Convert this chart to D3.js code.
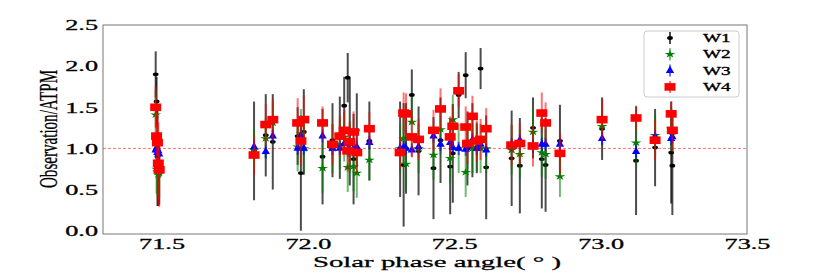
<!DOCTYPE html>
<html>
<head>
<meta charset="utf-8">
<script src="https://cdn.jsdelivr.net/npm/d3@7"></script>
<style>
  body { margin: 0; background: #fff; }
  text { font-family: "Liberation Serif", "Times New Roman", serif; }
</style>
</head>
<body>
<div id="chart"></div>
<script>
const w = 830;
const h = 273;

// solar phase angle of each observation (deg)
const phase = [71.480, 71.483, 71.486, 71.489, 71.492, 71.816, 71.856, 71.880, 71.965, 71.976,
  71.986, 72.050, 72.084, 72.109, 72.124, 72.136, 72.143, 72.156, 72.167, 72.210,
  72.315, 72.327, 72.335, 72.355, 72.378, 72.429, 72.453, 72.486, 72.495, 72.515,
  72.539, 72.545, 72.562, 72.577, 72.590, 72.609, 72.696, 72.724, 72.769, 72.799,
  72.812, 72.861, 73.005, 73.121, 73.186, 73.241, 73.245];

// Observation/ATPM ratio per band
const w1 = [1.90, 1.57, 0.90, 0.75, 0.72, 0.97, 1.16, 1.08, 1.15, 0.70,
  1.20, 0.90, 1.10, 1.13, 1.52, 1.86, 1.20, 0.87, 1.22, 1.09,
  0.99, 0.80, 1.00, 1.65, 0.97, 0.76, 1.10, 0.78, 0.94, 1.65,
  1.89, 1.00, 1.10, 1.00, 1.97, 0.77, 0.88, 0.79, 1.25, 0.87,
  0.80, 1.09, 1.24, 0.85, 1.01, 0.95, 0.79];
const w2 = [1.41, 0.75, 0.72, 0.68, 0.70, 0.98, 1.12, 1.31, 1.02, 1.18,
  1.00, 0.76, 1.00, 1.05, 1.14, 0.77, 1.00, 0.78, 0.70, 0.86,
  1.00, 1.12, 0.81, 1.32, 1.00, 0.92, 1.23, 0.88, 1.35, 1.00,
  0.71, 1.05, 1.00, 1.02, 1.00, 1.00, 0.98, 0.93, 1.20, 0.95,
  0.93, 0.66, 1.27, 1.07, 1.16, 1.24, 1.20];
const w3 = [0.98, 1.00, 0.95, 0.97, 0.93, 1.02, 0.96, 1.15, 1.00, 1.15,
  1.00, 1.15, 1.00, 1.00, 1.06, 0.98, 1.06, 1.00, 1.02, 1.07,
  1.00, 1.01, 1.00, 0.98, 1.02, 1.15, 1.05, 1.07, 1.01, 1.00,
  0.99, 1.03, 1.10, 1.00, 1.05, 0.98, 1.05, 1.10, 1.02, 1.05,
  1.05, 1.05, 1.12, 0.96, 1.14, 1.12, 1.14];
const w4 = [1.50, 1.15, 1.07, 0.82, 0.74, 0.92, 1.29, 1.35, 1.31, 1.09,
  1.35, 1.31, 1.05, 1.15, 1.22, 0.97, 1.08, 1.20, 0.95, 1.24,
  0.95, 1.43, 1.42, 1.14, 1.11, 1.22, 1.48, 1.14, 1.27, 1.70,
  1.26, 1.06, 1.39, 1.09, 1.11, 1.24, 1.04, 1.06, 1.03, 1.43,
  1.31, 0.94, 1.35, 1.37, 1.10, 1.42, 1.22];

// 1-sigma errors per band
const err1 = [0.28, 0.30, 0.60, 0.45, 0.40, 0.60, 0.50, 0.58, 0.35, 0.70,
  0.52, 0.58, 0.45, 0.50, 0.35, 0.30, 0.65, 0.55, 0.45, 0.48,
  0.58, 0.75, 0.55, 0.31, 0.54, 0.62, 0.52, 0.58, 0.60, 0.28,
  0.28, 0.45, 0.45, 0.30, 0.25, 0.63, 0.58, 0.58, 0.37, 0.60,
  0.57, 0.44, 0.38, 0.66, 0.47, 0.62, 0.60];
const err2 = [0.30, 0.30, 0.30, 0.30, 0.30, 0.25, 0.25, 0.25, 0.30, 0.30,
  0.30, 0.30, 0.30, 0.30, 0.30, 0.30, 0.30, 0.30, 0.30, 0.25,
  0.30, 0.30, 0.30, 0.30, 0.30, 0.30, 0.30, 0.30, 0.30, 0.30,
  0.30, 0.30, 0.30, 0.30, 0.30, 0.30, 0.30, 0.30, 0.30, 0.30,
  0.30, 0.25, 0.25, 0.30, 0.25, 0.25, 0.25];
const err3 = phase.map(() => 0.08);
const err4 = [0.25, 0.30, 0.35, 0.50, 0.45, 0.24, 0.25, 0.25, 0.30, 0.30,
  0.30, 0.20, 0.25, 0.25, 0.25, 0.25, 0.25, 0.25, 0.25, 0.20,
  0.20, 0.25, 0.25, 0.25, 0.25, 0.25, 0.25, 0.25, 0.25, 0.20,
  0.25, 0.25, 0.25, 0.25, 0.25, 0.25, 0.25, 0.25, 0.25, 0.25,
  0.25, 0.25, 0.25, 0.15, 0.25, 0.15, 0.25];

const xTicks = [71.5, 72.0, 72.5, 73.0, 73.5];
const yTicks = [0.0, 0.5, 1.0, 1.5, 2.0, 2.5];

const series = [
  { name: "W1", vals: w1, errs: err1, color: "#000000", shape: "dot", barAlpha: 0.7 },
  { name: "W2", vals: w2, errs: err2, color: "#008000", shape: "star", barAlpha: 0.55 },
  { name: "W3", vals: w3, errs: err3, color: "#0000ff", shape: "tri", barAlpha: 0.55 },
  { name: "W4", vals: w4, errs: err4, color: "#ff0000", shape: "sq", barAlpha: 0.55 }
];

const plotL = 103, plotR = 747, plotT = 25, plotB = 234;
const sx = 1.75; // the figure is stretched sideways

let svg = d3.select('#chart')
  .append('svg')
    .attr('width', w)
    .attr('height', h);

let xScale = d3.scaleLinear().domain([71.3, 73.5]).range([plotL, plotR]);
let yScale = d3.scaleLinear().domain([-0.04, 2.5]).range([plotB, plotT]);

// reference line at ratio 1
svg.append("line")
  .attr("x1", plotL).attr("x2", plotR)
  .attr("y1", yScale(1)).attr("y2", yScale(1))
  .attr("stroke", "#ff0000").attr("stroke-opacity", 0.55)
  .attr("stroke-width", 1)
  .attr("stroke-dasharray", "3,2");

function marker(g, shape, color) {
  if (shape == "dot") {
    g.append("ellipse").attr("rx", 2.9).attr("ry", 1.9).attr("fill", color);
  } else if (shape == "star") {
    g.append("path").attr("d", d3.symbol(d3.symbolStar, 26)())
      .attr("transform", "scale(1.2,0.85)").attr("fill", color);
  } else if (shape == "tri") {
    g.append("path").attr("d", d3.symbol(d3.symbolTriangle, 30)())
      .attr("fill", color);
  } else {
    g.append("rect").attr("x", -5.5).attr("y", -3.8).attr("width", 11).attr("height", 7.6)
      .attr("fill", color);
  }
}

series.forEach((s) => {
  let g = svg.append("g").attr("class", "series-" + s.name);
  g.selectAll("line.bar")
    .data(phase)
    .enter()
    .append("line")
    .attr("class", "bar")
    .attr("x1", (d) => xScale(d))
    .attr("x2", (d) => xScale(d))
    .attr("y1", (d, i) => yScale(s.vals[i] + s.errs[i]))
    .attr("y2", (d, i) => yScale(Math.max(-0.04, s.vals[i] - s.errs[i])))
    .attr("stroke", s.color)
    .attr("stroke-opacity", s.barAlpha)
    .attr("stroke-width", 2);
  phase.forEach((p, i) => {
    let m = g.append("g")
      .attr("transform", "translate(" + xScale(p) + "," + yScale(s.vals[i]) + ")");
    marker(m, s.shape, s.color);
  });
});

// frame
svg.append("rect")
  .attr("x", plotL).attr("y", plotT)
  .attr("width", plotR - plotL).attr("height", plotB - plotT)
  .attr("fill", "none").attr("stroke", "#777").attr("stroke-width", 1);

// axes
let xAxis = svg.append("g")
  .attr("transform", "translate(0," + plotB + ")")
  .call(d3.axisBottom(xScale).tickValues(xTicks).tickSize(0).tickFormat(d3.format(".1f")));
xAxis.select(".domain").remove();
xAxis.selectAll("text")
  .attr("y", 4)
  .attr("font-size", 15)
  .attr("font-family", '"Liberation Serif", serif')
  .attr("fill", "#000")
  .attr("stroke", "#000").attr("stroke-width", 0.3)
  .attr("transform", "scale(" + sx + ",1)");

let yAxis = svg.append("g")
  .attr("transform", "translate(" + plotL + ",0)")
  .call(d3.axisLeft(yScale).tickValues(yTicks).tickSize(0).tickFormat(d3.format(".1f")));
yAxis.select(".domain").remove();
yAxis.selectAll("text")
  .attr("x", -5 / sx)
  .attr("font-size", 15)
  .attr("font-family", '"Liberation Serif", serif')
  .attr("fill", "#000")
  .attr("stroke", "#000").attr("stroke-width", 0.3)
  .attr("transform", "scale(" + sx + ",1)");

svg.append("text")
  .attr("transform", "translate(437,267) scale(1.92,1)")
  .attr("text-anchor", "middle")
  .attr("font-size", 15)
  .attr("stroke", "#000").attr("stroke-width", 0.25)
  .text("Solar phase angle( ° )");

svg.append("text")
  .attr("transform", "translate(57,129) rotate(-90) scale(0.58,1)")
  .attr("text-anchor", "middle")
  .attr("font-size", 26)
  .attr("stroke", "#000").attr("stroke-width", 0.3)
  .text("Observation/ATPM");

// legend
let legend = svg.append("g");
legend.append("rect")
  .attr("x", 644).attr("y", 31).attr("width", 95).attr("height", 66)
  .attr("rx", 3)
  .attr("fill", "#fff").attr("fill-opacity", 0.8)
  .attr("stroke", "#ccc");
series.forEach((s, i) => {
  const ly = 38 + i * 16.3;
  let g = legend.append("g").attr("transform", "translate(670," + ly + ")");
  g.append("line").attr("y1", -6).attr("y2", 6)
    .attr("stroke", s.color).attr("stroke-opacity", s.barAlpha).attr("stroke-width", 2);
  marker(g, s.shape, s.color);
  legend.append("text")
    .attr("transform", "translate(703," + (ly + 4) + ") scale(1.6,1)")
    .attr("font-size", 12)
    .attr("stroke", "#000").attr("stroke-width", 0.35)
    .text(s.name);
});
</script>
</body>
</html>
